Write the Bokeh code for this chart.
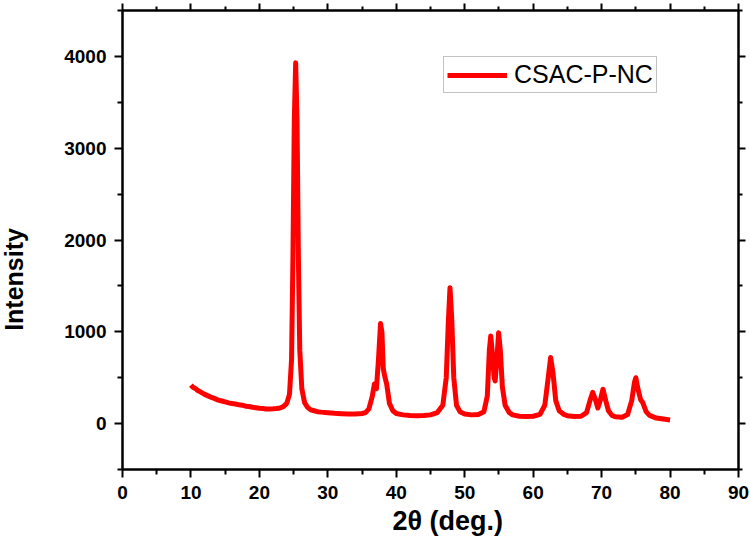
import math
from bokeh.plotting import figure
from bokeh.layouts import row
from bokeh.models import LinearAxis, Range1d, Legend, LegendItem, FixedTicker, Label, Title
from bokeh.embed import file_html
from bokeh.resources import INLINE

# 2-theta (deg.) positions
two_theta = [10.0, 10.3, 10.7, 11.0, 11.5, 12.0, 12.5, 13.0, 13.5, 14.0, 14.5, 15.0, 15.5, 16.0,
             16.5, 17.0, 17.5, 18.0, 18.5, 19.0, 19.5, 20.0, 20.5, 21.0, 21.5, 22.0, 22.5, 23.0,
             23.5, 24.0, 24.4, 24.7, 24.9, 25.1, 25.3, 25.5, 25.7, 25.9, 26.2, 26.6, 27.0, 27.5,
             28.0, 28.5, 29.0, 30.0, 31.0, 32.0, 33.0, 34.0, 35.0, 35.5, 36.0, 36.5, 36.8, 37.1,
             37.4, 37.7, 37.9, 38.1, 38.3, 38.6, 39.0, 39.5, 40.0, 41.0, 42.0, 43.0, 44.0, 45.0,
             46.0, 46.8, 47.3, 47.6, 47.85, 48.1, 48.4, 48.8, 49.3, 50.0, 51.0, 52.0, 52.8, 53.3,
             53.6, 53.8, 54.0, 54.3, 54.45, 54.7, 54.95, 55.2, 55.5, 55.9, 56.5, 57.0, 58.0, 59.0,
             60.0, 61.0, 61.7, 62.2, 62.55, 62.9, 63.3, 63.8, 64.5, 65.0, 66.0, 67.0, 67.8, 68.3,
             68.7, 69.1, 69.45, 69.8, 70.2, 70.6, 71.0, 71.5, 72.0, 73.0, 73.8, 74.4, 74.8, 75.0,
             75.3, 75.7, 76.0, 76.5, 77.0, 78.0, 79.0, 80.0]
# intensity values
intensity = [420, 395, 380, 360, 340, 318, 302, 285, 272, 255, 246, 236, 226, 218,
             214, 206, 201, 190, 186, 178, 173, 168, 165, 160, 158, 161, 165, 170,
             185, 220, 320, 700, 1800, 3300, 3930, 3300, 1800, 800, 380, 230, 180, 150,
             140, 130, 125, 118, 112, 108, 105, 105, 110, 120, 160, 300, 430, 380,
             700, 1090, 1000, 600, 520, 430, 220, 140, 110, 95, 88, 85, 88, 95,
             120, 200, 500, 1100, 1480, 1150, 500, 200, 130, 105, 95, 100, 130, 300,
             800, 955, 800, 500, 465, 700, 990, 800, 400, 200, 120, 95, 80, 78,
             80, 100, 200, 500, 720, 550, 250, 140, 100, 85, 78, 80, 120, 250,
             340, 260, 170, 250, 375, 250, 140, 90, 75, 70, 100, 250, 450, 500,
             380, 260, 230, 130, 90, 60, 50, 40]

series_name = "CSAC-P-NC"
x_ticks = [0, 10, 20, 30, 40, 50, 60, 70, 80, 90]
y_ticks = [0, 1000, 2000, 3000, 4000]
x_label = "2θ (deg.)"
y_label = "Intensity"

FONT = "Liberation Sans"
STRIP_W = 36

# narrow strip on the left that carries the rotated y-axis title
# (its frame is aligned with the main frame, so it shares the intensity range)
pl = figure(width=STRIP_W, height=557, output_backend="svg", toolbar_location=None,
            x_range=Range1d(0, STRIP_W), y_range=Range1d(-500, 4500),
            min_border=0, min_border_left=0, min_border_right=0,
            min_border_top=10, min_border_bottom=88)
pl.axis.visible = False
pl.grid.visible = False
pl.outline_line_color = None
pl.background_fill_color = "white"
pl.border_fill_color = "white"
pl.add_layout(Label(x=13, y=1570, text=y_label, angle=math.pi / 2, text_align="center",
                    text_baseline="middle", text_font=FONT, text_font_style="bold",
                    text_font_size="25px", text_color="black"))

p = figure(width=750 - STRIP_W, height=557, output_backend="svg", toolbar_location=None,
           x_range=Range1d(0, 90), y_range=Range1d(-500, 4500),
           min_border_left=122 - STRIP_W, min_border_right=12, min_border_top=10,
           min_border_bottom=88)
p.grid.visible = False
p.outline_line_color = "black"
p.outline_line_width = 2
p.background_fill_color = "white"
p.border_fill_color = "white"

r = p.line(two_theta, intensity, line_color="#ff0000", line_width=5, line_join="round")

for ax in [p.xaxis[0], p.yaxis[0]]:
    ax.axis_line_width = 2
    ax.major_tick_line_width = 2
    ax.minor_tick_line_width = 2
    ax.major_tick_out = 8
    ax.major_tick_in = 0
    ax.minor_tick_out = 5
    ax.minor_tick_in = 0
    ax.major_label_text_font = FONT
    ax.major_label_text_font_style = "bold"
    ax.major_label_text_font_size = "19px"
    ax.major_label_text_color = "black"
    ax.major_label_standoff = 8

p.xaxis[0].ticker = FixedTicker(ticks=x_ticks, minor_ticks=[t + 5 for t in x_ticks[:-1]])
p.yaxis[0].ticker = FixedTicker(ticks=y_ticks, minor_ticks=[-500] + [t + 500 for t in y_ticks])

for loc, ticks in [("above", x_ticks), ("right", y_ticks)]:
    minor = [t + 5 for t in x_ticks[:-1]] if loc == "above" else [-500] + [t + 500 for t in y_ticks]
    ax = LinearAxis(ticker=FixedTicker(ticks=ticks, minor_ticks=minor))
    ax.axis_line_width = 2
    ax.major_tick_line_width = 2
    ax.minor_tick_line_width = 2
    ax.major_tick_out = 7
    ax.major_tick_in = 0
    ax.minor_tick_out = 4
    ax.minor_tick_in = 0
    ax.major_label_text_font_size = "0px"
    ax.major_label_text_alpha = 0
    ax.major_label_standoff = 0
    p.add_layout(ax, loc)

# x-axis title, slightly right of centre as in the reference
p.add_layout(Title(text=x_label, align="left", offset=270, vertical_align="top", standoff=8,
                   text_font=FONT, text_font_style="bold", text_font_size="27px",
                   text_color="black"), "below")

legend = Legend(items=[LegendItem(label=series_name, renderers=[r])],
                location=(321, 376), orientation="vertical",
                label_text_font=FONT, label_text_font_size="25px", label_text_color="black",
                glyph_width=60, glyph_height=20, label_standoff=7, padding=3, spacing=0,
                margin=0, border_line_color="#888888", border_line_width=1,
                background_fill_alpha=1)
p.add_layout(legend)

layout = row(pl, p, spacing=0)
open("out.html", "w").write(file_html(layout, INLINE))
